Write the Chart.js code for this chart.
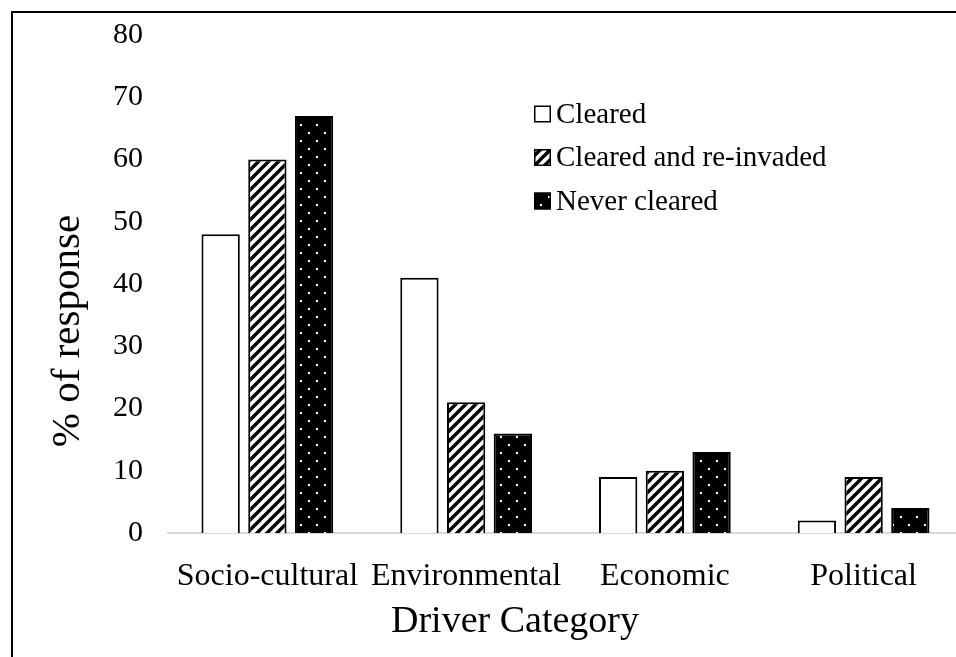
<!DOCTYPE html>
<html>
<head>
<meta charset="utf-8">
<script src="https://cdn.jsdelivr.net/npm/chart.js@4.4.0/dist/chart.umd.min.js"></script>
<style>
  html, body { margin: 0; padding: 0; background: #fff; overflow: hidden; }
  #wrap { position: relative; width: 975px; height: 657px; }
  #frame { position: absolute; left: 11px; top: 11px; width: 2000px; height: 2000px;
           border-left: 2px solid #000; border-top: 2px solid #000; pointer-events: none; }
</style>
</head>
<body>
<div id="wrap">
  <canvas id="driverChart"></canvas>
  <div id="frame"></div>
</div>
<script>
const categories = ['Socio-cultural', 'Environmental', 'Economic', 'Political'];
const seriesNames = ['Cleared', 'Cleared and re-invaded', 'Never cleared'];
const cleared = [48, 41, 9, 2];
const clearedReinvaded = [60, 21, 10, 9];
const neverCleared = [67, 16, 13, 4];
const yTicks = [0, 10, 20, 30, 40, 50, 60, 70, 80];
const xTitle = 'Driver Category';
const yTitle = '% of response';

const serif = '"Liberation Serif", "Times New Roman", serif';

function hatchPattern() {
  const c = document.createElement('canvas');
  c.width = 10; c.height = 10;
  const g = c.getContext('2d');
  g.fillStyle = '#fff';
  g.fillRect(0, 0, 10, 10);
  g.strokeStyle = '#000';
  g.lineWidth = 3.4;
  g.beginPath();
  g.moveTo(-2, 12); g.lineTo(12, -2);
  g.moveTo(-2, 2); g.lineTo(2, -2);
  g.moveTo(8, 12); g.lineTo(12, 8);
  g.stroke();
  return g.createPattern(c, 'repeat');
}

function dotPattern() {
  const c = document.createElement('canvas');
  c.width = 16; c.height = 16;
  const g = c.getContext('2d');
  g.fillStyle = '#000';
  g.fillRect(0, 0, 16, 16);
  g.fillStyle = '#fff';
  g.fillRect(4, 4, 2, 2);
  g.fillRect(12, 12, 2, 2);
  return g.createPattern(c, 'repeat');
}

// legend stacked inside the plot + axis titles placed where the original has them
const innerLegend = {
  id: 'innerLegend',
  afterDraw(chart, args, opts) {
    const ctx = chart.ctx;
    ctx.save();
    ctx.font = opts.fontSize + 'px ' + serif;
    ctx.textBaseline = 'middle';
    ctx.textAlign = 'left';
    chart.data.datasets.forEach((ds, i) => {
      const y = opts.y + i * opts.rowGap;
      ctx.fillStyle = ds.backgroundColor;
      ctx.fillRect(opts.x, y - opts.box / 2, opts.box, opts.box);
      ctx.strokeStyle = '#000';
      ctx.lineWidth = 1.5;
      ctx.strokeRect(opts.x + 0.75, y - opts.box / 2 + 0.75, opts.box - 1.5, opts.box - 1.5);
      ctx.fillStyle = '#000';
      ctx.fillText(ds.label, opts.x + opts.box + 5, y + 1);
    });

    ctx.textAlign = 'center';
    ctx.font = opts.xTitleSize + 'px ' + serif;
    ctx.fillText(xTitle, opts.xTitleX, opts.xTitleY);
    ctx.translate(opts.yTitleX, opts.yTitleY);
    ctx.rotate(-Math.PI / 2);
    ctx.font = opts.yTitleSize + 'px ' + serif;
    ctx.fillText(yTitle, 0, 0);
    ctx.restore();
  }
};

const ctx = document.getElementById('driverChart').getContext('2d');
new Chart(ctx, {
  type: 'bar',
  data: {
    labels: categories,
    datasets: [
      { label: seriesNames[0], data: cleared, backgroundColor: '#fff' },
      { label: seriesNames[1], data: clearedReinvaded, backgroundColor: hatchPattern() },
      { label: seriesNames[2], data: neverCleared, backgroundColor: dotPattern() }
    ].map(d => Object.assign(d, {
      borderColor: '#000', borderWidth: 2,
      categoryPercentage: 0.705, barPercentage: 0.82
    }))
  },
  options: {
    responsive: true,
    maintainAspectRatio: false,
    animation: false,
    layout: { padding: { left: 40, right: 12, top: 28, bottom: 10 } },
    plugins: {
      legend: { display: false },
      tooltip: { enabled: false },
      innerLegend: {
        x: 534, y: 114, rowGap: 43.5, box: 17, fontSize: 29,
        xTitleX: 515, xTitleY: 622, xTitleSize: 38,
        yTitleX: 68, yTitleY: 331, yTitleSize: 41
      }
    },
    scales: {
      x: {
        grid: { display: true, color: 'rgba(0,0,0,0)', drawTicks: false },
        border: { display: true, color: '#d9d9d9', width: 2 },
        ticks: { color: '#000', font: { family: serif, size: 32 }, padding: 24, maxRotation: 0 },
        afterFit(scale) { scale.height = 114; }
      },
      y: {
        min: 0, max: 80,
        afterBuildTicks(scale) { scale.ticks = yTicks.map(v => ({ value: v })); },
        grid: { display: false },
        border: { display: false },
        ticks: { color: '#000', font: { family: serif, size: 30 }, padding: 17 },
        afterFit(scale) { scale.width = 128; }
      }
    }
  },
  plugins: [innerLegend]
});
</script>
</body>
</html>
